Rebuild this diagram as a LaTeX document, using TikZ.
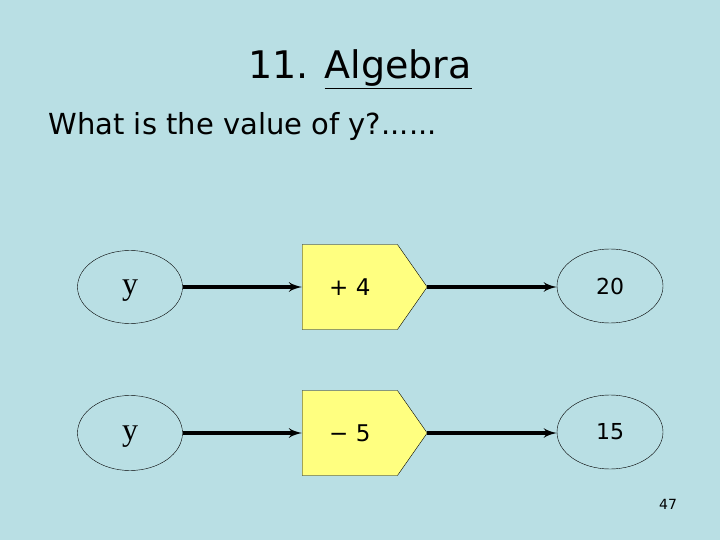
\documentclass[tikz,border=0pt]{standalone}
\usepackage{fontspec}
\setmainfont{Liberation Serif}
\setsansfont{DejaVu Sans}
\usetikzlibrary{shapes, shapes.misc}
\usetikzlibrary{arrows}
\definecolor{slidebg}{RGB}{185,223,228}
\definecolor{boxyellow}{RGB}{255,255,128}

\begin{document}
\begin{tikzpicture}[x=1pt,y=-1pt]
        \fill[slidebg] (0,0) rectangle (720,540);
        \node[anchor=base, font=\sffamily\fontsize{38}{42}\selectfont] (title) at (360,79)
        {11. \underline{Algebra}};
        \node[anchor=base west, font=\sffamily\fontsize{29}{34}\selectfont] (question) at (45,135)
        {What is the value of y?......};

        % first row
        \node[draw, ellipse, minimum width=105, minimum height=73, inner sep=0, text depth=0pt,
        font=\fontsize{32}{36}\selectfont] (y1) at (130,287) {y};
        \node[draw, signal, signal to=east, signal pointer angle=110, fill=boxyellow,
        minimum width=125, minimum height=85, inner sep=0, anchor=west,
        font=\sffamily\fontsize{23}{26}\selectfont] (op1) at (302,287) {+ 4};
        \node[draw, ellipse, minimum width=106, minimum height=74, inner sep=0,
        font=\sffamily\fontsize{22}{26}\selectfont] (r1) at (610,286) {20};
        \draw[>=latex', ->, line width=3.5pt] (y1.east) -- (op1.west);
        \draw[>=latex', ->, line width=3.5pt] (op1.east) -- (op1.east -| r1.west);

        % second row
        \node[draw, ellipse, minimum width=105, minimum height=75, inner sep=0, text depth=0pt,
        font=\fontsize{32}{36}\selectfont] (y2) at (130,433) {y};
        \node[draw, signal, signal to=east, signal pointer angle=110, fill=boxyellow,
        minimum width=125, minimum height=85, inner sep=0, anchor=west,
        font=\sffamily\fontsize{23}{26}\selectfont] (op2) at (302,433) {− 5};
        \node[draw, ellipse, minimum width=106, minimum height=74, inner sep=0,
        font=\sffamily\fontsize{22}{26}\selectfont] (r2) at (610,432) {15};
        \draw[>=latex', ->, line width=3.5pt] (y2.east) -- (op2.west);
        \draw[>=latex', ->, line width=3.5pt] (op2.east) -- (op2.east -| r2.west);

        \node[font=\sffamily\fontsize{14}{16}\selectfont] (page) at (668,504) {47};
\end{tikzpicture}
\end{document}
